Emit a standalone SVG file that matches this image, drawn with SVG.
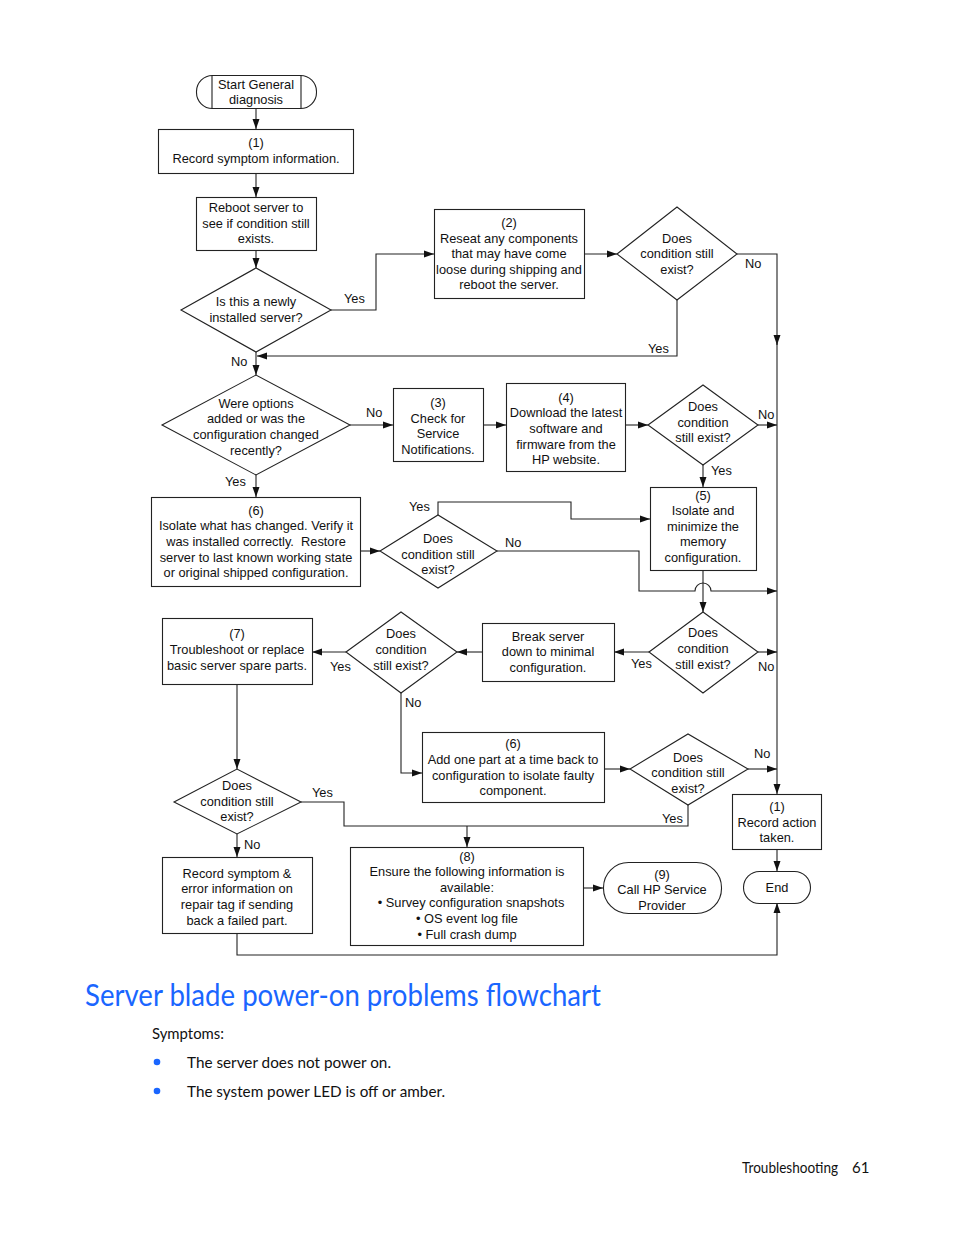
<svg xmlns="http://www.w3.org/2000/svg" width="954" height="1235" viewBox="0 0 954 1235">
<style>
.s{fill:#fff;stroke:#222;stroke-width:1.1}
.t{font-family:"Liberation Sans",Arial,sans-serif;font-size:12.8px;fill:#111;text-anchor:middle}
.l{font-family:"Liberation Sans",Arial,sans-serif;font-size:12.8px;fill:#111}
.c{fill:none;stroke:#222;stroke-width:1.1}
.b{font-family:Lato,"Open Sans",sans-serif;fill:#111}
</style>
<defs>
<marker id="a" markerUnits="userSpaceOnUse" markerWidth="10" markerHeight="8" refX="10" refY="4" orient="auto">
<path d="M0,0.5 L10,4 L0,7.5 z" fill="#111"/>
</marker>
</defs>
<rect width="954" height="1235" fill="#fff"/>

<g id="connectors" class="c">
<path d="M256,108 V129" marker-end="url(#a)"/>
<path d="M256,173 V197" marker-end="url(#a)"/>
<path d="M256,250 V268" marker-end="url(#a)"/>
<path d="M331,310 H376 V254 H434" marker-end="url(#a)"/>
<path d="M584,254 H617" marker-end="url(#a)"/>
<path d="M737,254 H777 V345" marker-end="url(#a)"/>
<path d="M777,340 V794" marker-end="url(#a)"/>
<path d="M677,300 V356 H257" marker-end="url(#a)"/>
<path d="M256,352 V375" marker-end="url(#a)"/>
<path d="M350,425 H393" marker-end="url(#a)"/>
<path d="M483,425 H506" marker-end="url(#a)"/>
<path d="M625,425 H648" marker-end="url(#a)"/>
<path d="M758,425 H777" marker-end="url(#a)"/>
<path d="M703,465 V487" marker-end="url(#a)"/>
<path d="M256,475 V497" marker-end="url(#a)"/>
<path d="M360,551 H380" marker-end="url(#a)"/>
<path d="M438,515 V502 H571 V519 H650" marker-end="url(#a)"/>
<path d="M497,551 H639 V591 H695 A8,8 0 0 1 711,591 H777" marker-end="url(#a)"/>
<path d="M703,570 V612" marker-end="url(#a)"/>
<path d="M758,652 H777" marker-end="url(#a)"/>
<path d="M649,652 H614" marker-end="url(#a)"/>
<path d="M482,652 H457" marker-end="url(#a)"/>
<path d="M346,652 H312" marker-end="url(#a)"/>
<path d="M401,693 V773 H422" marker-end="url(#a)"/>
<path d="M604,769 H630" marker-end="url(#a)"/>
<path d="M748,769 H777" marker-end="url(#a)"/>
<path d="M237,683 V769" marker-end="url(#a)"/>
<path d="M301,802 H344 V826 H688 V805"/>
<path d="M467,826 V847" marker-end="url(#a)"/>
<path d="M237,834 V857" marker-end="url(#a)"/>
<path d="M237,933 V955 H777 V903" marker-end="url(#a)"/>
<path d="M583,888 H603" marker-end="url(#a)"/>
<path d="M777,849 V871" marker-end="url(#a)"/>
</g>

<g id="labels" class="l">
<text x="344" y="303">Yes</text>
<text x="231" y="366">No</text>
<text x="648" y="353">Yes</text>
<text x="745" y="268">No</text>
<text x="366" y="417">No</text>
<text x="225" y="486">Yes</text>
<text x="409" y="511">Yes</text>
<text x="758" y="419">No</text>
<text x="711" y="475">Yes</text>
<text x="505" y="547">No</text>
<text x="631" y="668">Yes</text>
<text x="758" y="671">No</text>
<text x="330" y="671">Yes</text>
<text x="405" y="707">No</text>
<text x="312" y="797">Yes</text>
<text x="244" y="849">No</text>
<text x="754" y="758">No</text>
<text x="662" y="823">Yes</text>
</g>

<g id="start">
<rect class="s" x="196.5" y="75.5" width="120" height="33" rx="16" ry="16"/>
<path class="c" d="M212,75.5 V108.5 M301,75.5 V108.5"/>
<text class="t" x="256" y="88.5">Start General</text>
<text class="t" x="256" y="104">diagnosis</text>
</g>

<g id="n1">
<rect class="s" x="158.5" y="129.5" width="195" height="44"/>
<text class="t" x="256" y="147">(1)</text>
<text class="t" x="256" y="163">Record symptom information.</text>
</g>

<g id="reboot">
<rect class="s" x="196.5" y="197.5" width="120" height="53"/>
<text class="t" x="256" y="212">Reboot server to</text>
<text class="t" x="256" y="228">see if condition still</text>
<text class="t" x="256" y="243">exists.</text>
</g>

<g id="d-new">
<polygon class="s" points="181,310 256,268 331,310 256,352"/>
<text class="t" x="256" y="306">Is this a newly</text>
<text class="t" x="256" y="322">installed server?</text>
</g>

<g id="n2">
<rect class="s" x="434.5" y="209.5" width="150" height="89"/>
<text class="t" x="509" y="227">(2)</text>
<text class="t" x="509" y="243">Reseat any components</text>
<text class="t" x="509" y="258">that may have come</text>
<text class="t" x="509" y="274">loose during shipping and</text>
<text class="t" x="509" y="289">reboot the server.</text>
</g>

<g id="d2">
<polygon class="s" points="617,254 677,207 737,254 677,300"/>
<text class="t" x="677" y="243">Does</text>
<text class="t" x="677" y="258">condition still</text>
<text class="t" x="677" y="274">exist?</text>
</g>

<g id="d-options">
<polygon class="s" points="162,425 256,375 350,425 256,475"/>
<text class="t" x="256" y="408">Were options</text>
<text class="t" x="256" y="423">added or was the</text>
<text class="t" x="256" y="439">configuration changed</text>
<text class="t" x="256" y="455">recently?</text>
</g>

<g id="n3">
<rect class="s" x="393.5" y="388.5" width="90" height="73"/>
<text class="t" x="438" y="407">(3)</text>
<text class="t" x="438" y="423">Check for</text>
<text class="t" x="438" y="438">Service</text>
<text class="t" x="438" y="454">Notifications.</text>
</g>

<g id="n4">
<rect class="s" x="506.5" y="383.5" width="119" height="88"/>
<text class="t" x="566" y="402">(4)</text>
<text class="t" x="566" y="417">Download the latest</text>
<text class="t" x="566" y="433">software and</text>
<text class="t" x="566" y="449">firmware from the</text>
<text class="t" x="566" y="464">HP website.</text>
</g>

<g id="d4">
<polygon class="s" points="648,425 703,385 758,425 703,465"/>
<text class="t" x="703" y="411">Does</text>
<text class="t" x="703" y="427">condition</text>
<text class="t" x="703" y="442">still exist?</text>
</g>

<g id="n6a">
<rect class="s" x="151.5" y="497.5" width="209" height="89"/>
<text class="t" x="256" y="515">(6)</text>
<text class="t" x="256" y="530">Isolate what has changed. Verify it</text>
<text class="t" x="256" y="546" style="white-space:pre">was installed correctly.  Restore</text>
<text class="t" x="256" y="562">server to last known working state</text>
<text class="t" x="256" y="577">or original shipped configuration.</text>
</g>

<g id="d5">
<polygon class="s" points="380,551 438,515 497,551 438,588"/>
<text class="t" x="438" y="543">Does</text>
<text class="t" x="438" y="559">condition still</text>
<text class="t" x="438" y="574">exist?</text>
</g>

<g id="n5">
<rect class="s" x="650.5" y="487.5" width="106" height="83"/>
<text class="t" x="703" y="500">(5)</text>
<text class="t" x="703" y="515">Isolate and</text>
<text class="t" x="703" y="531">minimize the</text>
<text class="t" x="703" y="546">memory</text>
<text class="t" x="703" y="562">configuration.</text>
</g>

<g id="d6">
<polygon class="s" points="649,652 703,612 758,652 703,693"/>
<text class="t" x="703" y="637">Does</text>
<text class="t" x="703" y="653">condition</text>
<text class="t" x="703" y="669">still exist?</text>
</g>

<g id="break">
<rect class="s" x="482.5" y="623.5" width="132" height="58"/>
<text class="t" x="548" y="641">Break server</text>
<text class="t" x="548" y="656">down to minimal</text>
<text class="t" x="548" y="672">configuration.</text>
</g>

<g id="d7">
<polygon class="s" points="346,652 401,612 457,652 401,693"/>
<text class="t" x="401" y="638">Does</text>
<text class="t" x="401" y="654">condition</text>
<text class="t" x="401" y="670">still exist?</text>
</g>

<g id="n7">
<rect class="s" x="162.5" y="618.5" width="150" height="66"/>
<text class="t" x="237" y="638">(7)</text>
<text class="t" x="237" y="654">Troubleshoot or replace</text>
<text class="t" x="237" y="670">basic server spare parts.</text>
</g>

<g id="n6b">
<rect class="s" x="422.5" y="732.5" width="182" height="70"/>
<text class="t" x="513" y="748">(6)</text>
<text class="t" x="513" y="764">Add one part at a time back to</text>
<text class="t" x="513" y="780">configuration to isolate faulty</text>
<text class="t" x="513" y="795">component.</text>
</g>

<g id="d8">
<polygon class="s" points="630,769 688,734 748,769 688,805"/>
<text class="t" x="688" y="762">Does</text>
<text class="t" x="688" y="777">condition still</text>
<text class="t" x="688" y="793">exist?</text>
</g>

<g id="d9">
<polygon class="s" points="174,802 237,769 301,802 237,834"/>
<text class="t" x="237" y="790">Does</text>
<text class="t" x="237" y="806">condition still</text>
<text class="t" x="237" y="821">exist?</text>
</g>

<g id="record-action">
<rect class="s" x="732.5" y="794.5" width="89" height="55"/>
<text class="t" x="777" y="811">(1)</text>
<text class="t" x="777" y="827">Record action</text>
<text class="t" x="777" y="842">taken.</text>
</g>

<g id="record-symptom">
<rect class="s" x="162.5" y="857.5" width="150" height="76"/>
<text class="t" x="237" y="878">Record symptom &amp;</text>
<text class="t" x="237" y="893">error information on</text>
<text class="t" x="237" y="909">repair tag if sending</text>
<text class="t" x="237" y="925">back a failed part.</text>
</g>

<g id="n8">
<rect class="s" x="350.5" y="847.5" width="233" height="98"/>
<text class="t" x="467" y="861">(8)</text>
<text class="t" x="467" y="876">Ensure the following information is</text>
<text class="t" x="467" y="892">available:</text>
<text class="t" x="471" y="907">• Survey configuration snapshots</text>
<text class="t" x="467" y="923">• OS event log file</text>
<text class="t" x="467" y="939">• Full crash dump</text>
</g>

<g id="n9">
<rect class="s" x="603.5" y="862.5" width="118" height="51" rx="25" ry="25"/>
<text class="t" x="662" y="879">(9)</text>
<text class="t" x="662" y="894">Call HP Service</text>
<text class="t" x="662" y="910">Provider</text>
</g>

<g id="end">
<rect class="s" x="743.5" y="871.5" width="67" height="32" rx="16" ry="16"/>
<text class="t" x="777" y="892">End</text>
</g>

<g id="page-text">
<text x="85" y="1006" font-family="Lato,'Open Sans',sans-serif" font-size="30" fill="#1a66ff" textLength="516" lengthAdjust="spacingAndGlyphs">Server blade power-on problems flowchart</text>
<text class="b" x="152" y="1039" font-size="16" textLength="72" lengthAdjust="spacingAndGlyphs">Symptoms:</text>
<circle cx="157" cy="1062" r="3.3" fill="#1a66ff"/>
<circle cx="157" cy="1091" r="3.3" fill="#1a66ff"/>
<text class="b" x="187" y="1068" font-size="16" textLength="204" lengthAdjust="spacingAndGlyphs">The server does not power on.</text>
<text class="b" x="187" y="1097" font-size="16" textLength="258" lengthAdjust="spacingAndGlyphs">The system power LED is off or amber.</text>
<text class="b" x="742" y="1173" font-size="15" textLength="96" lengthAdjust="spacingAndGlyphs">Troubleshooting</text>
<text class="b" x="852" y="1173" font-size="15">61</text>
</g>
</svg>
